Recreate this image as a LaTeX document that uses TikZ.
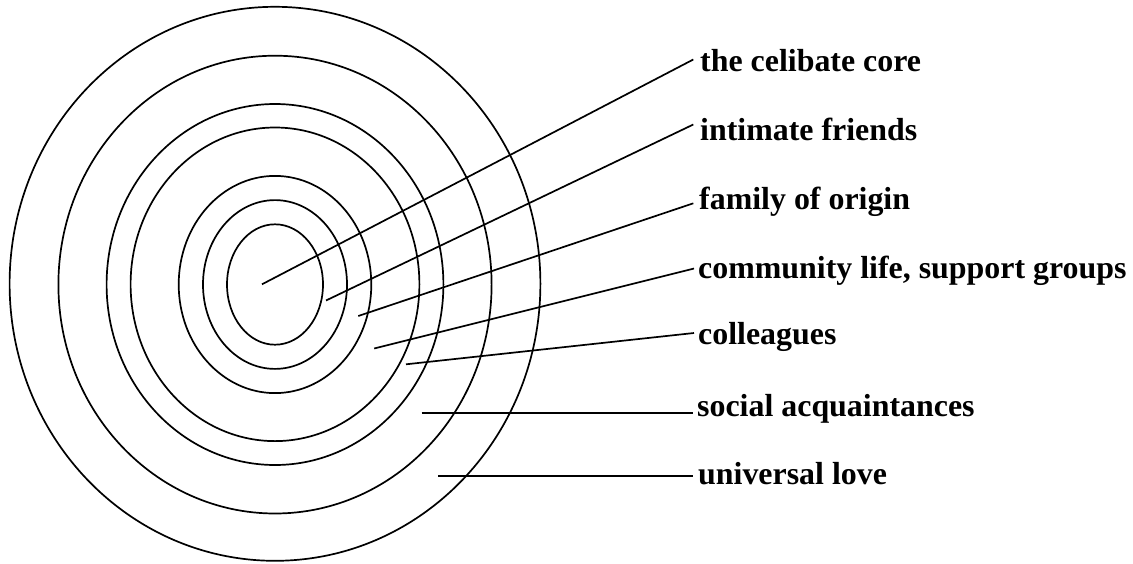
\documentclass[tikz,border=0pt]{standalone}
\usepackage{fontspec}
\setmainfont{Liberation Serif}
\begin{document}
\begin{tikzpicture}[x=1pt,y=-1pt,
  ring/.style={line width=1.7pt},
  lead/.style={line width=1.7pt},
  lbl/.style={anchor=base west,inner sep=0pt,font=\fontsize{31.9}{38}\selectfont\bfseries}]
\useasboundingbox (0,0) rectangle (1133,563);
% concentric rings
\draw[ring] (275,284.5) ellipse [x radius=48, y radius=60.2];
\draw[ring] (275,284.5) ellipse [x radius=72, y radius=84.4];
\draw[ring] (275,284.5) ellipse [x radius=96.3, y radius=108.6];
\draw[ring] (275,284.3) ellipse [x radius=144.4, y radius=156.8];
\draw[ring] (275,284.5) ellipse [x radius=168.4, y radius=180.5];
\draw[ring] (275,284.6) ellipse [x radius=216.6, y radius=228.9];
\draw[ring] (275,283.8) ellipse [x radius=265.4, y radius=277];
% labels
\node[lbl] (l1) at (700,71.7) {the celibate core};
\node[lbl] (l2) at (700,140) {intimate friends};
\node[lbl] (l3) at (699,209.3) {family of origin};
\node[lbl] (l4) at (698,278.3) {community life, support groups};
\node[lbl] (l5) at (698,344.5) {colleagues};
\node[lbl] (l6) at (697,416) {social acquaintances};
\node[lbl] (l7) at (698,484.3) {universal love};
% leader start points
\coordinate (s1) at (262,284.3);
\coordinate (s2) at (326,300.5);
\coordinate (s3) at (358.3,316);
\coordinate (s4) at (374.2,348.5);
\coordinate (s5) at (406,364.3);
\coordinate (s6) at (421.7,412.7);
\coordinate (s7) at (438,476);
% leader end points beside the labels
\coordinate (e1) at (693.3,59.5);
\coordinate (e2) at (693.3,124.5);
\coordinate (e3) at (693.3,203.3);
\coordinate (e4) at (694,268.5);
\coordinate (e5) at (694,333);
\coordinate (e6) at (693.3,412.7);
\coordinate (e7) at (693.3,476);
\foreach \i in {1,...,7} \draw[lead] (s\i) -- (e\i);
\end{tikzpicture}
\end{document}
